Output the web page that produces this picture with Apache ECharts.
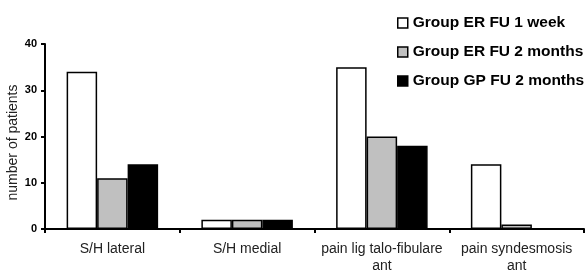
<!DOCTYPE html>
<html><head><meta charset="utf-8">
<script src="https://cdn.jsdelivr.net/npm/echarts@6/dist/echarts.min.js"></script>
<style>html,body{margin:0;padding:0;background:#fff}#c{width:585px;height:274px}</style>
</head><body><div id="c"></div>
<script>
const categories = ['S/H lateral', 'S/H medial', 'pain lig talo-fibulare\nant', 'pain syndesmosis\nant'];
const seriesNames = ['Group ER FU 1 week', 'Group ER FU 2 months', 'Group GP FU 2 months'];
const erWeek = [34, 2, 35, 14];
const erTwoMonths = [11, 2, 20, 1];
const gpTwoMonths = [14, 2, 18, 0];
const yTicks = [0, 10, 20, 30, 40];
const colors = ['#ffffff', '#c0c0c0', '#000000'];

const values = [erWeek, erTwoMonths, gpTwoMonths];
const chart = echarts.init(document.getElementById('c'), null, {renderer: 'canvas'});
const FONT = 'Liberation Sans, Arial, Helvetica, sans-serif';
chart.setOption({
  animation: false,
  backgroundColor: '#ffffff',
  grid: {left: 45, right: 1, top: 44, bottom: 45, containLabel: false, outerBoundsMode: 'none'},
  legend: {
    orient: 'vertical', left: 397, top: 15, padding: 0, itemWidth: 10, itemHeight: 10, itemGap: 13,
    icon: 'rect',
    textStyle: {fontFamily: FONT, fontWeight: 'bold', fontSize: 15.5, color: '#000'},
    itemStyle: {borderColor: '#000', borderWidth: 1.5},
    data: seriesNames
  },
  xAxis: {
    type: 'category', data: categories,
    axisLine: {lineStyle: {color: '#000', width: 2}},
    axisTick: {show: true, inside: false, length: 4, lineStyle: {color: '#000', width: 2}},
    axisLabel: {interval: 0, fontFamily: FONT, fontSize: 14, color: '#222', margin: 12, lineHeight: 17}
  },
  yAxis: {
    type: 'value', min: yTicks[0], max: yTicks[yTicks.length - 1], interval: 10,
    name: 'number of patients', nameLocation: 'middle', nameGap: 25, nameRotate: 90,
    nameMoveOverlap: false,
    nameTextStyle: {fontFamily: FONT, fontSize: 14, color: '#222', padding: [0, 12, 0, 0]},
    axisLine: {show: true, lineStyle: {color: '#000', width: 2}},
    axisTick: {show: true, length: 4, lineStyle: {color: '#000', width: 2}},
    splitLine: {show: false},
    axisLabel: {fontFamily: FONT, fontSize: 11, fontWeight: 'bold', color: '#000', margin: 8}
  },
  series: seriesNames.map((n, i) => ({
    name: n, type: 'bar', data: values[i], barWidth: 30.5, barGap: '0%',
    itemStyle: {color: colors[i], borderColor: '#000', borderWidth: 1.5}
  }))
});
</script></body></html>
